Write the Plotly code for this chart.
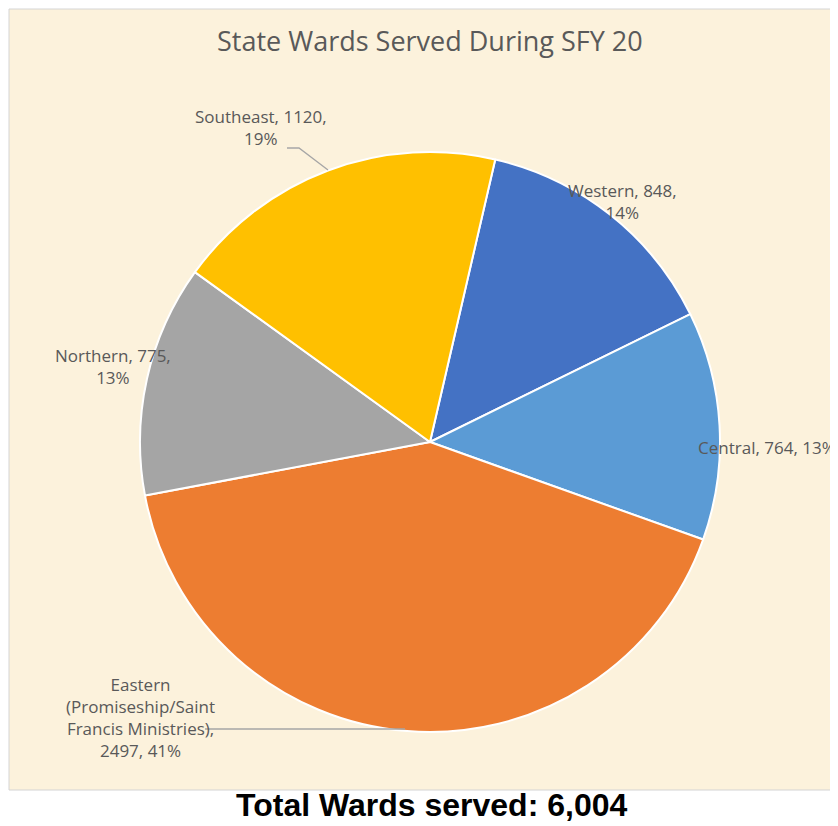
import plotly.graph_objects as go

# ---- data ----
regions = ["Western", "Central", "Eastern (Promiseship/Saint Francis Ministries)", "Northern", "Southeast"]
wards = [848, 764, 2497, 775, 1120]
pct_labels = [14, 13, 41, 13, 19]
colors = ["#4472C4", "#5B9BD5", "#ED7D31", "#A5A5A5", "#FFC000"]
title_text = "State Wards Served During SFY 20"
total_text = "Total Wards served: 6,004"

W, H = 838, 826
OFF = 8  # default page body margin of the written html


def px(x):
    return (x - OFF) / W


def py(y):
    return 1 - (y - OFF) / H


cx, cy, r = 430, 442, 290

fig = go.Figure()
fig.add_trace(go.Pie(
    labels=regions,
    values=wards,
    sort=False,
    direction="clockwise",
    rotation=13,
    marker=dict(colors=colors, line=dict(color="white", width=2)),
    textinfo="none",
    hoverinfo="label+value+percent",
    showlegend=False,
    domain=dict(x=[px(cx - r), px(cx + r)], y=[py(cy + r), py(cy - r)]),
))


def label_text(i):
    name, v, p = regions[i], wards[i], pct_labels[i]
    if name.startswith("Eastern"):
        nm = name.replace(" (", "<br>(").replace("Saint ", "Saint<br>")
        return f"{nm},<br>{v}, {p}%"
    if name == "Central":
        return f"{name}, {v}, {p}%"
    return f"{name}, {v},<br>{p}%"


label_font = dict(family="Open Sans, Lato, sans-serif", size=17, color="#595959")
# (x, y, xanchor) text placement in pixels
placement = {
    "Western": (622, 201, "center"),
    "Central": (696, 447, "left"),
    "Eastern": (140, 717, "center"),
    "Northern": (113, 366, "center"),
    "Southeast": (261, 128, "center"),
}

annotations = []
for i, name in enumerate(regions):
    key = name.split(" ")[0]
    x, y, xa = placement[key]
    annotations.append(dict(
        x=px(x), y=py(y), xref="paper", yref="paper", xanchor=xa, yanchor="middle",
        text=label_text(i), showarrow=False, font=label_font, align="center",
    ))

annotations.append(dict(
    x=px(430), y=py(41), xref="paper", yref="paper", xanchor="center", yanchor="middle",
    text=title_text, showarrow=False,
    font=dict(family="Open Sans, Lato, sans-serif", size=27, color="#595959"),
))
annotations.append(dict(
    x=px(431), y=py(805), xref="paper", yref="paper", xanchor="center", yanchor="middle",
    text=f"<b>{total_text}</b>", showarrow=False,
    font=dict(family="Liberation Sans, Arial, sans-serif", size=32, color="#000000"),
))

shapes = [
    dict(type="rect", xref="paper", yref="paper", x0=px(9), x1=px(W + 20), y0=py(790), y1=py(9),
         fillcolor="#FCF2DC", line=dict(color="#D4D4D4", width=1), layer="below"),
    dict(type="path", xref="paper", yref="paper",
         path=f"M {px(287)} {py(148)} L {px(299)} {py(148)} L {px(328)} {py(170)}",
         line=dict(color="#A6A6A6", width=1.3)),
    dict(type="line", xref="paper", yref="paper", x0=px(205), y0=py(729), x1=px(405), y1=py(729),
         line=dict(color="#A6A6A6", width=1.3)),
]

fig.update_layout(
    width=W, height=H,
    margin=dict(l=0, r=0, t=0, b=0),
    paper_bgcolor="white",
    plot_bgcolor="white",
    annotations=annotations,
    shapes=shapes,
)

fig.write_html("out.html")
